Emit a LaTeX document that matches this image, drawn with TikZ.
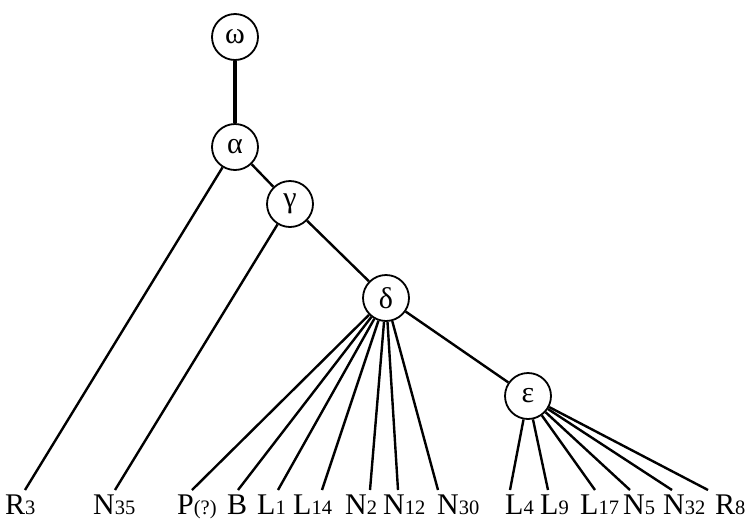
\documentclass[tikz,border=0pt]{standalone}
\usepackage{fontspec}
\setmainfont{Liberation Serif}
\newcommand\lsub[1]{{\fontsize{20.5}{20.5}\selectfont #1}}
\begin{document}
\begin{tikzpicture}[x=1pt,y=-1pt,
  inner/.style={circle,draw,line width=1.8pt,minimum size=46pt,inner sep=0pt,fill=white,font=\fontsize{30}{30}\selectfont},
  leaf/.style={anchor=base west,inner sep=0pt,font=\fontsize{30}{30}\selectfont},
  edge/.style={line width=2.4pt},
  trunk/.style={line width=3.2pt}]
\useasboundingbox (0,0) rectangle (755,520);
% internal nodes
\node[inner] (om) at (235,37) {ω};
\node[inner] (al) at (235,147) {α};
\node[inner] (ga) at (290,204) {γ};
\node[inner] (de) at (386,298) {δ};
\node[inner] (ep) at (528,396) {ε};
% leaf labels
\node[leaf] (R3)  at (5,514)   {R\lsub{3}};
\node[leaf] (N35) at (93,514)  {N\lsub{35}};
\node[leaf] (P)   at (177,514) {P\lsub{(?)}};
\node[leaf] (B)   at (227,514) {B};
\node[leaf] (L1)  at (257,514) {L\lsub{1}};
\node[leaf] (L14) at (293,514) {L\lsub{14}};
\node[leaf] (N2)  at (345,514) {N\lsub{2}};
\node[leaf] (N12) at (383,514) {N\lsub{12}};
\node[leaf] (N30) at (437,514) {N\lsub{30}};
\node[leaf] (L4)  at (505,514) {L\lsub{4}};
\node[leaf] (L9)  at (540,514) {L\lsub{9}};
\node[leaf] (L17) at (580,514) {L\lsub{17}};
\node[leaf] (N5)  at (623,514) {N\lsub{5}};
\node[leaf] (N32) at (663,514) {N\lsub{32}};
\node[leaf] (R8)  at (715,514) {R\lsub{8}};
% connector ends above labels
\coordinate (tR3)  at (25,490);
\coordinate (tN35) at (115,490);
\coordinate (tP)   at (192,490);
\coordinate (tB)   at (238,490);
\coordinate (tL1)  at (278,490);
\coordinate (tL14) at (322,490);
\coordinate (tN2)  at (370,490);
\coordinate (tN12) at (398,490);
\coordinate (tN30) at (438,490);
\coordinate (tL4)  at (510,490);
\coordinate (tL9)  at (548,490);
\coordinate (tL17) at (595,490);
\coordinate (tN5)  at (630,490);
\coordinate (tN32) at (672,490);
\coordinate (tR8)  at (708,490);
% connectors
\draw[trunk] (om) -- (al);
\draw[edge] (al) -- (ga);
\draw[edge] (ga) -- (de);
\draw[edge] (de) -- (ep);
\draw[edge] (al) -- (tR3);
\draw[edge] (ga) -- (tN35);
\foreach \t in {tP,tB,tL1,tL14,tN2,tN12,tN30} \draw[edge] (de) -- (\t);
\foreach \t in {tL4,tL9,tL17,tN5,tN32,tR8} \draw[edge] (ep) -- (\t);
\end{tikzpicture}
\end{document}
